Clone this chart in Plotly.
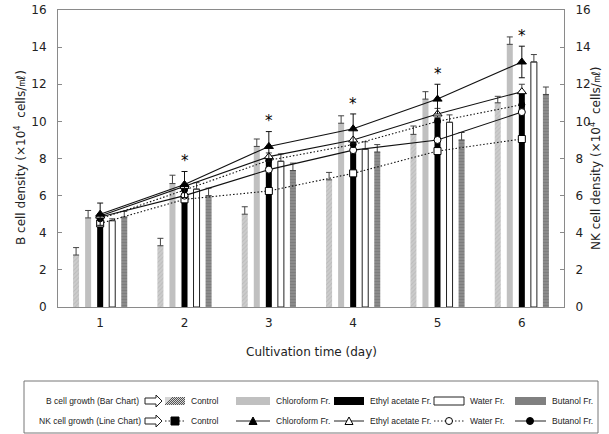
import plotly.graph_objects as go

days = ["1", "2", "3", "4", "5", "6"]

# B cell density (bars, left axis)
bar_control = [2.8, 3.3, 5.0, 6.85, 9.3, 11.0]
bar_control_err = [0.4, 0.4, 0.4, 0.4, 0.45, 0.35]
bar_chloro = [4.8, 6.65, 8.65, 9.9, 11.2, 14.15]
bar_chloro_err = [0.4, 0.45, 0.4, 0.4, 0.4, 0.4]
bar_ethyl = [4.6, 6.0, 7.9, 8.5, 10.2, 11.5]
bar_ethyl_err = [0.4, 0.4, 0.4, 0.4, 0.5, 0.5]
bar_water = [4.65, 6.35, 7.85, 8.5, 9.95, 13.2]
bar_water_err = [0.1, 0.35, 0.4, 0.4, 0.4, 0.4]
bar_butanol = [4.85, 6.0, 7.35, 8.35, 9.0, 11.45]
bar_butanol_err = [0.3, 0.4, 0.4, 0.4, 0.4, 0.4]

# NK cell density (lines, right axis)
nk_control = [4.5, 5.8, 6.25, 7.2, 8.4, 9.05]
nk_chloro = [5.0, 6.6, 8.65, 9.6, 11.2, 13.2]
nk_chloro_err = [0.6, 0.7, 0.8, 0.8, 0.8, 0.85]
nk_ethyl = [4.9, 6.5, 8.1, 9.0, 10.4, 11.6]
nk_water = [4.85, 6.0, 7.4, 8.45, 9.0, 10.5]
nk_butanol = [4.75, 6.3, 7.9, 8.75, 10.0, 10.9]
star_days = ["2", "3", "4", "5", "6"]

W, H = 609, 434
L, R, T, B = 58, 564, 10, 307
AX = "#8a8a8a"
FONT = "DejaVu Sans"
DOT = "1.5px,2px"

fig = go.Figure()

def eb(arr, color="#444"):
    return dict(type="data", array=arr, arrayminus=[0] * len(arr), symmetric=False,
                color=color, thickness=1, width=3)

fig.add_bar(x=days, y=bar_control, error_y=eb(bar_control_err), name="Control",
            marker=dict(color="#c4c4c4", line=dict(width=0),
                        pattern=dict(shape="/", fgcolor="#a8a8a8", bgcolor="#cccccc", size=3, solidity=0.3)))
fig.add_bar(x=days, y=bar_chloro, error_y=eb(bar_chloro_err), name="Chloroform Fr.",
            marker=dict(color="#c0c0c0", line=dict(width=0)))
fig.add_bar(x=days, y=bar_ethyl, error_y=eb(bar_ethyl_err), name="Ethyl acetate Fr.",
            marker=dict(color="#000000", line=dict(width=0)))
fig.add_bar(x=days, y=bar_water, error_y=eb(bar_water_err), name="Water Fr.",
            marker=dict(color="#ffffff", line=dict(width=1, color="#222")))
fig.add_bar(x=days, y=bar_butanol, error_y=eb(bar_butanol_err), name="Butanol Fr.",
            marker=dict(color="#808080", line=dict(width=0),
                        pattern=dict(shape="-", fgcolor="#6e6e6e", bgcolor="#8c8c8c", size=3, solidity=0.4)))

def line(y, name, dash, symbol, fill, size=7, err=None):
    kw = {}
    if err is not None:
        kw["error_y"] = dict(type="data", array=err, color="#111", thickness=1, width=3)
    fig.add_scatter(x=days, y=y, yaxis="y2", name=name, mode="lines+markers",
                    line=dict(color="#111", width=1.1, dash=dash),
                    marker=dict(symbol=symbol, size=size, color=fill, line=dict(color="#000", width=1)),
                    **kw)

line(nk_control, "NK Control", DOT, "square", "#ffffff", 7)
line(nk_water, "NK Water Fr.", "solid", "circle", "#ffffff", 7)
line(nk_butanol, "NK Butanol Fr.", DOT, "circle", "#000000", 6)
line(nk_ethyl, "NK Ethyl acetate Fr.", "solid", "triangle-up", "#ffffff", 8)
line(nk_chloro, "NK Chloroform Fr.", "solid", "triangle-up", "#000000", 8, err=nk_chloro_err)

annotations = []
for d in star_days:
    i = days.index(d)
    annotations.append(dict(x=i, y=nk_chloro[i] + nk_chloro_err[i] + 0.55, xref="x", yref="y2",
                            text="*", showarrow=False, font=dict(family=FONT, size=15, color="#000")))

def PX(x):
    return (x - L) / (R - L)

def PY(y):
    return (B - y) / (B - T)

# axis titles
annotations.append(dict(x=PX(311), y=PY(352), xref="paper", yref="paper", text="Cultivation time (day)",
                        xanchor="center", yanchor="middle",
                        showarrow=False, font=dict(family=FONT, size=12, color="#222")))
annotations.append(dict(x=PX(10), y=PY(158), xref="paper", yref="paper", textangle=-90, xanchor="left",
                        yanchor="middle", text="B cell density (×10<sup>4</sup>  cells/㎖)",
                        showarrow=False, font=dict(family=FONT, size=12, color="#222")))
annotations.append(dict(x=PX(605), y=PY(158), xref="paper", yref="paper", textangle=-90, xanchor="right",
                        yanchor="middle", text="NK cell density (×10<sup>4</sup>  cells/㎖)",
                        showarrow=False, font=dict(family=FONT, size=12, color="#222")))

shapes = []
# legend box
shapes.append(dict(type="rect", xref="paper", yref="paper", x0=PX(24), x1=PX(598), y0=PY(381), y1=PY(433),
                   line=dict(color="#777", width=1), fillcolor="rgba(0,0,0,0)"))

LF = dict(family="Liberation Sans", size=8.5, color="#222")
r1, r2 = 401, 421

def text(x, y, s, anchor="left"):
    annotations.append(dict(x=PX(x), y=PY(y), xref="paper", yref="paper", text=s, showarrow=False,
                            xanchor=anchor, yanchor="middle", font=LF))

def arrow(y):
    x0 = 145
    p = (f"M{PX(x0)},{PY(y-3)} L{PX(x0+11)},{PY(y-3)} L{PX(x0+11)},{PY(y-6)} L{PX(x0+17)},{PY(y)} "
         f"L{PX(x0+11)},{PY(y+6)} L{PX(x0+11)},{PY(y+3)} L{PX(x0)},{PY(y+3)} Z")
    shapes.append(dict(type="path", xref="paper", yref="paper", path=p, line=dict(color="#222", width=1)))

text(141, r1, "B cell growth (Bar Chart)", "right")
text(143, r2, "NK cell growth (Line Chart)", "right")
arrow(r1)
arrow(r2)

def rect(x0, x1, y, fill, lc=None):
    shapes.append(dict(type="rect", xref="paper", yref="paper", x0=PX(x0), x1=PX(x1), y0=PY(y + 4), y1=PY(y - 4),
                       fillcolor=fill, line=dict(color=lc or fill, width=1 if lc else 0)))

# bar legend row
rect(165, 185, r1, "#d6d6d6")
for k in range(0, 22, 2):
    xa = 165 + k
    xb = min(xa + 8, 185)
    ya = r1 + 4
    yb = r1 + 4 - (xb - xa)
    shapes.append(dict(type="line", xref="paper", yref="paper", x0=PX(xa), x1=PX(xb), y0=PY(ya), y1=PY(yb),
                       line=dict(color="#555", width=1)))
text(189, r1, "Control")
rect(236, 270, r1, "#c0c0c0")
text(274, r1, "Chloroform Fr.")
rect(334, 364, r1, "#000000")
text(368, r1, "Ethyl acetate Fr.")
rect(434, 464, r1, "#ffffff", "#222")
text(468, r1, "Water Fr.")
rect(515, 546, r1, "#808080")
text(550, r1, "Butanol Fr.")

# line legend row
def lseg(x0, x1, y, dash):
    shapes.append(dict(type="line", xref="paper", yref="paper", x0=PX(x0), x1=PX(x1), y0=PY(y), y1=PY(y),
                       line=dict(color="#222", width=1, dash=dash)))

def sq(x, y, s=4):
    shapes.append(dict(type="rect", xref="paper", yref="paper", x0=PX(x - s), x1=PX(x + s), y0=PY(y + s), y1=PY(y - s),
                       fillcolor="#000", line=dict(color="#000", width=1)))

def circ(x, y, fill, s=3.5):
    shapes.append(dict(type="circle", xref="paper", yref="paper", x0=PX(x - s), x1=PX(x + s), y0=PY(y + s), y1=PY(y - s),
                       fillcolor=fill, line=dict(color="#000", width=1)))

def tri(x, y, fill, s=4):
    p = f"M{PX(x - s)},{PY(y + s - 0.5)} L{PX(x + s)},{PY(y + s - 0.5)} L{PX(x)},{PY(y - s)} Z"
    shapes.append(dict(type="path", xref="paper", yref="paper", path=p, fillcolor=fill,
                       line=dict(color="#000", width=1)))

lseg(165, 185, r2, DOT); sq(175, r2)
text(189, r2, "Control")
lseg(236, 270, r2, "solid"); tri(253, r2, "#000")
text(274, r2, "Chloroform Fr.")
lseg(334, 364, r2, "solid"); tri(349, r2, "#fff")
text(368, r2, "Ethyl acetate Fr.")
lseg(434, 464, r2, DOT); circ(449, r2, "#fff")
text(468, r2, "Water Fr.")
lseg(515, 546, r2, "solid"); circ(530, r2, "#000")
text(550, r2, "Butanol Fr.")

fig.update_layout(
    width=W, height=H,
    margin=dict(l=L, r=W - R, t=T, b=H - B, pad=0, autoexpand=False),
    paper_bgcolor="white", plot_bgcolor="white",
    barmode="group", bargap=0.286, bargroupgap=0.5,
    showlegend=False,
    font=dict(family=FONT, size=12, color="#222"),
    xaxis=dict(type="category", showline=True, linecolor=AX, linewidth=1, mirror=True, automargin=False,
               ticks="", showgrid=False, ticklabelstandoff=5, tickfont=dict(family=FONT, size=12, color="#222")),
    yaxis=dict(range=[0, 16], dtick=2, showline=True, linecolor=AX, linewidth=1, ticks="inside",
               ticklen=4, tickcolor=AX, showgrid=False, zeroline=False, ticklabelstandoff=8, automargin=False,
               tickfont=dict(family=FONT, size=12, color="#222")),
    yaxis2=dict(range=[0, 16], dtick=2, overlaying="y", side="right", showline=True, linecolor=AX,
                linewidth=1, ticks="inside", ticklen=4, tickcolor=AX, showgrid=False, zeroline=False,
                ticklabelstandoff=8, automargin=False, tickfont=dict(family=FONT, size=12, color="#222")),
    annotations=annotations,
    shapes=shapes,
)

fig.write_html("out.html", config={"displayModeBar": False},
               post_script="document.body.style.margin='0px';")
